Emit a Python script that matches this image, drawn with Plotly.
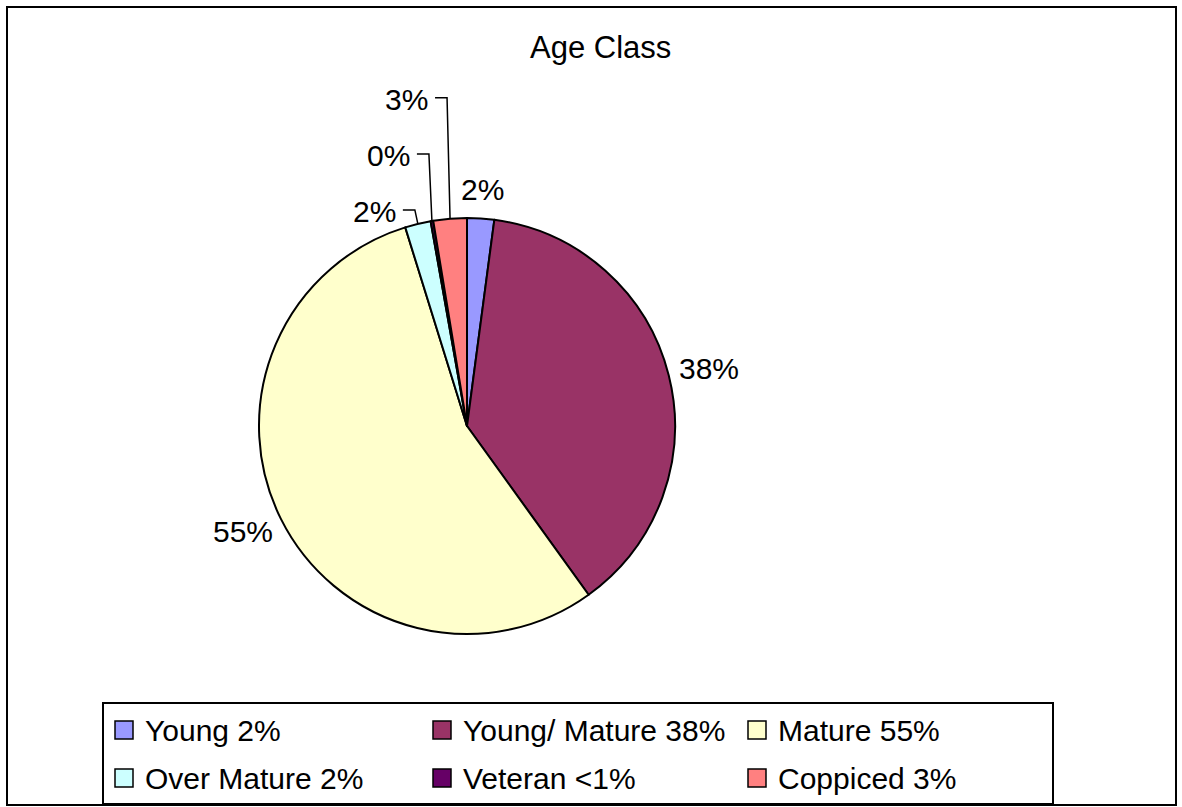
import math
import plotly.graph_objects as go

# ---- data ----
categories = ["Young", "Young/ Mature", "Mature", "Over Mature", "Veteran", "Coppiced"]
legend_labels = ["Young 2%", "Young/ Mature 38%", "Mature 55%",
                 "Over Mature 2%", "Veteran <1%", "Coppiced 3%"]
values = [2.1, 38.0, 55.2, 2.0, 0.2, 2.6]
colors = ["#9999FF", "#993366", "#FFFFCC", "#CCFFFF", "#660066", "#FF8080"]
title_text = "Age Class"

# ---- layout params (pixels) ----
W, H = 1182, 807
CX, CY, R = 467, 426, 208
FONT = "Liberation Sans, Arial, sans-serif"
FS = 30
# leader lines for crowded small slices: rise above rim point (px); None = plain label
leader_rise = [None, None, None, 14, 67, 121]
# legend grid
LEG_BOX = (103, 703, 1053, 804)
LEG_COLS = [115, 433, 748]
LEG_ROWS = [730, 778]
SW = 18


def px(x):
    return x / W


def py(y):
    return 1 - y / H


fig = go.Figure(go.Pie(
    labels=categories,
    values=values,
    sort=False,
    direction="clockwise",
    rotation=0,
    marker=dict(colors=colors, line=dict(color="black", width=2)),
    textinfo="none",
    hoverinfo="label+percent",
    showlegend=False,
    domain=dict(x=[px(CX - R), px(CX + R)], y=[py(CY + R), py(CY - R)]),
))

total = sum(values)
annotations = []
shapes = []
cum = 0.0
for i, v in enumerate(values):
    mid = (cum + v / 2) / total * 2 * math.pi
    cum += v
    txt = f"{round(v / total * 100)}%"
    sx, sy = math.sin(mid), -math.cos(mid)
    rimx, rimy = CX + R * sx, CY + R * sy
    if leader_rise[i] is None:
        gap = 12
        hw = 0.556 * FS * (len(txt) - 1) / 2 + 0.889 * FS / 2
        hh = 17
        tx = CX + (R + gap) * sx + hw * sx
        ty = CY + (R + gap) * sy + hh * sy
        annotations.append(dict(x=px(tx), y=py(ty), xref="paper", yref="paper",
                                text=txt, showarrow=False, xanchor="center",
                                yanchor="middle", font=dict(family=FONT, size=FS, color="black")))
    else:
        ey = rimy - leader_rise[i]
        ex = rimx - 3
        hx = ex - 12
        shapes.append(dict(type="path", xref="paper", yref="paper",
                           path=f"M {px(rimx)},{py(rimy)} L {px(ex)},{py(ey)} L {px(hx)},{py(ey)}",
                           line=dict(color="black", width=1.5)))
        annotations.append(dict(x=px(hx - 5), y=py(ey + 2), xref="paper", yref="paper",
                                text=txt, showarrow=False, xanchor="right",
                                yanchor="middle", font=dict(family=FONT, size=FS, color="black")))

# title
annotations.append(dict(x=px(600), y=py(47), xref="paper", yref="paper", text=title_text,
                        showarrow=False, xanchor="center", yanchor="middle",
                        font=dict(family=FONT, size=31, color="black")))

# outer chart frame
shapes.append(dict(type="rect", xref="paper", yref="paper",
                   x0=px(7), x1=px(1176), y0=py(805), y1=py(7),
                   line=dict(color="black", width=2), fillcolor="rgba(0,0,0,0)"))

# legend box + entries (3 columns x 2 rows)
shapes.append(dict(type="rect", xref="paper", yref="paper",
                   x0=px(LEG_BOX[0]), x1=px(LEG_BOX[2]), y0=py(LEG_BOX[3]), y1=py(LEG_BOX[1]),
                   line=dict(color="black", width=2), fillcolor="white", layer="below"))
for i, (lab, col) in enumerate(zip(legend_labels, colors)):
    cx0 = LEG_COLS[i % 3]
    cy0 = LEG_ROWS[i // 3]
    shapes.append(dict(type="rect", xref="paper", yref="paper",
                       x0=px(cx0), x1=px(cx0 + SW), y0=py(cy0 + SW / 2), y1=py(cy0 - SW / 2),
                       line=dict(color="black", width=1.5), fillcolor=col))
    annotations.append(dict(x=px(cx0 + 28), y=py(cy0), xref="paper", yref="paper",
                            text=lab, showarrow=False, xanchor="left", yanchor="middle",
                            font=dict(family=FONT, size=FS, color="black")))

fig.update_layout(
    width=W, height=H,
    margin=dict(l=0, r=0, t=0, b=0),
    paper_bgcolor="white", plot_bgcolor="white",
    font=dict(family=FONT, size=FS, color="black"),
    showlegend=False,
    annotations=annotations,
    shapes=shapes,
)

fig.write_html("out.html", config={"displayModeBar": False},
               post_script="document.body.style.margin='0';document.body.style.overflow='hidden';")
